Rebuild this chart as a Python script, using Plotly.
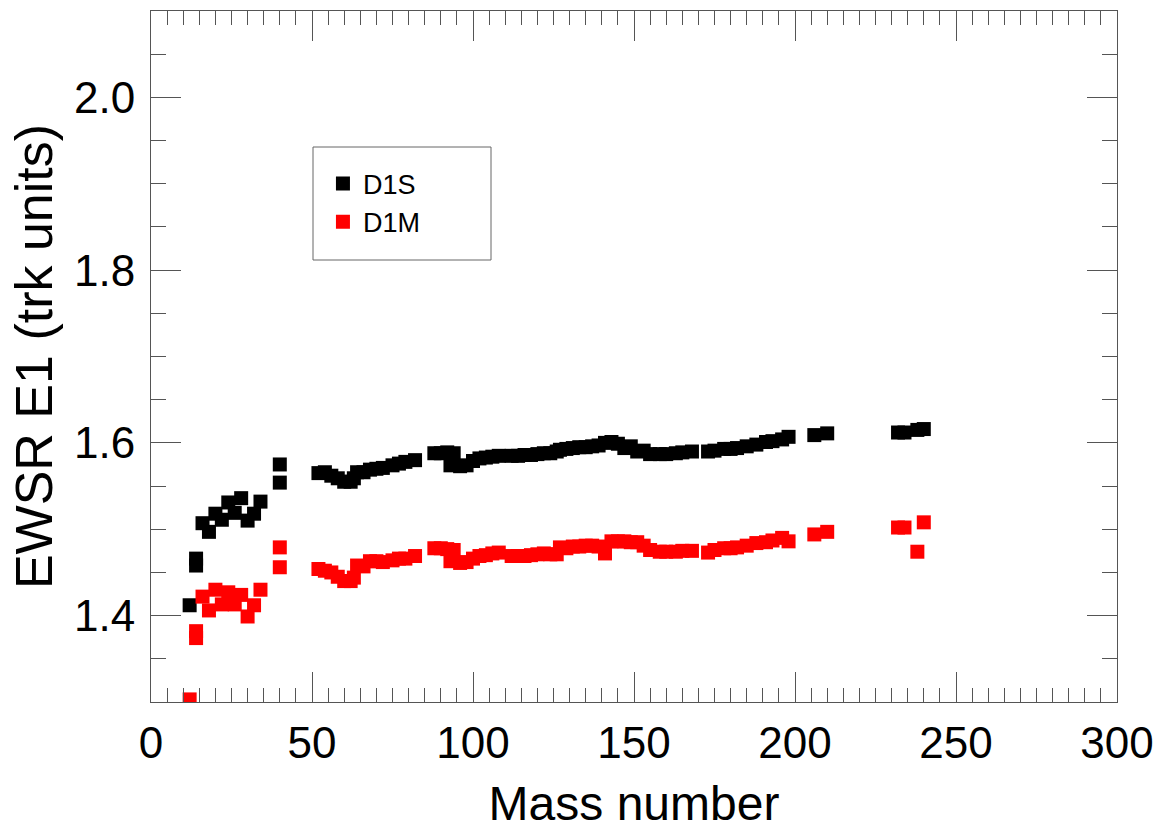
import plotly.graph_objects as go

# Mass numbers (shared by both series)
mass = [12, 14, 14, 16, 18, 20, 22, 24, 26, 28, 30, 32, 34, 40, 40,
        52, 54, 56, 58, 60, 62, 63, 64, 66, 68, 70, 72, 75, 77, 79, 82,
        88, 90, 92, 93, 94, 96, 98, 100, 102, 104, 106, 108,
        112, 114, 116, 118, 120, 122, 124, 126, 127, 129, 131, 133, 135, 137, 139,
        141, 143, 145, 147, 149, 151, 153, 155, 158, 160, 163, 165, 168,
        173, 175, 178, 180, 182, 185, 188, 191, 193, 196, 198, 206, 210,
        232, 234, 238, 240]

d1s = [1.412, 1.466, 1.458, 1.507, 1.497, 1.518, 1.511, 1.531, 1.519, 1.536, 1.510, 1.518, 1.532, 1.575, 1.554,
       1.565, 1.566, 1.562, 1.559, 1.555, 1.555, 1.559, 1.566, 1.566, 1.569, 1.570, 1.571, 1.574, 1.576, 1.578, 1.580,
       1.588, 1.588, 1.589, 1.574, 1.588, 1.573, 1.574, 1.579, 1.582, 1.583, 1.584, 1.585,
       1.585, 1.585, 1.586, 1.586, 1.587, 1.588, 1.588, 1.590, 1.592, 1.593, 1.594, 1.595, 1.595, 1.596, 1.597,
       1.600, 1.601, 1.599, 1.594, 1.596, 1.590, 1.591, 1.587, 1.587, 1.587, 1.588, 1.589, 1.590,
       1.590, 1.591, 1.593, 1.593, 1.594, 1.596, 1.598, 1.601, 1.602, 1.604, 1.607, 1.609, 1.611,
       1.612, 1.612, 1.615, 1.616]

d1m = [1.303, 1.382, 1.374, 1.422, 1.406, 1.430, 1.413, 1.427, 1.413, 1.424, 1.399, 1.412, 1.430, 1.479, 1.456,
       1.454, 1.452, 1.450, 1.445, 1.440, 1.440, 1.444, 1.458, 1.457, 1.463, 1.463, 1.462, 1.464, 1.466, 1.466, 1.469,
       1.478, 1.478, 1.477, 1.463, 1.476, 1.461, 1.462, 1.466, 1.469, 1.470, 1.472, 1.473,
       1.469, 1.469, 1.469, 1.470, 1.471, 1.472, 1.471, 1.471, 1.479, 1.478, 1.480, 1.480, 1.481, 1.481, 1.480,
       1.472, 1.486, 1.486, 1.486, 1.485, 1.485, 1.481, 1.476, 1.474, 1.474, 1.474, 1.475, 1.475,
       1.473, 1.476, 1.478, 1.478, 1.479, 1.481, 1.484, 1.485, 1.487, 1.490, 1.486, 1.494, 1.497,
       1.502, 1.502, 1.474, 1.508]

x_ticks = [0, 50, 100, 150, 200, 250, 300]
y_ticks = [1.4, 1.6, 1.8, 2.0]

FONT = "Liberation Sans, Arial, sans-serif"
AX = "#555555"

fig = go.Figure()
fig.add_trace(go.Scatter(x=mass, y=d1s, mode="markers", name="D1S",
                         marker=dict(symbol="square", size=14, color="black")))
fig.add_trace(go.Scatter(x=mass, y=d1m, mode="markers", name="D1M",
                         marker=dict(symbol="square", size=14, color="#ff0000")))

fig.update_layout(
    width=1158, height=834,
    margin=dict(l=151, r=41, t=11, b=132),
    plot_bgcolor="white", paper_bgcolor="white",
    showlegend=True,
    legend=dict(x=0.178, y=0.785, xanchor="left", yanchor="top",
                bgcolor="rgba(0,0,0,0)", borderwidth=0,
                font=dict(family=FONT, size=27, color="black"),
                tracegroupgap=4, traceorder="normal"),
    shapes=[dict(type="rect", xref="paper", yref="paper",
                 x0=(313 - 151) / 966, x1=(491 - 151) / 966,
                 y0=1 - (260 - 11) / 691, y1=1 - (147 - 11) / 691,
                 line=dict(color="#666666", width=1), fillcolor="rgba(0,0,0,0)")],
)

fig.update_xaxes(
    range=[0, 300], tickvals=x_ticks, ticktext=[str(v) for v in x_ticks],
    showgrid=False, zeroline=False, showline=True, linecolor=AX, linewidth=1,
    mirror="allticks", ticks="inside", ticklen=30, tickwidth=1, tickcolor=AX,
    minor=dict(dtick=5, tick0=0, ticks="inside", ticklen=14, tickwidth=1, tickcolor=AX, showgrid=False),
    tickfont=dict(family=FONT, size=44, color="black"),
    ticklabelstandoff=2, automargin=False,
    title=dict(text="Mass number", font=dict(family=FONT, size=48, color="black"), standoff=20),
)
fig.update_yaxes(
    range=[1.3, 2.1], tickvals=y_ticks, ticktext=["%.1f" % v for v in y_ticks],
    showgrid=False, zeroline=False, showline=True, linecolor=AX, linewidth=1,
    mirror="allticks", ticks="inside", ticklen=30, tickwidth=1, tickcolor=AX,
    minor=dict(dtick=0.05, tick0=1.3, ticks="inside", ticklen=15, tickwidth=1, tickcolor=AX, showgrid=False),
    tickfont=dict(family=FONT, size=44, color="black"),
    ticklabelstandoff=6, automargin=False,
    title=dict(text="EWSR E1 (trk units)", font=dict(family=FONT, size=52, color="black"), standoff=4),
)

fig.write_html("out.html")
